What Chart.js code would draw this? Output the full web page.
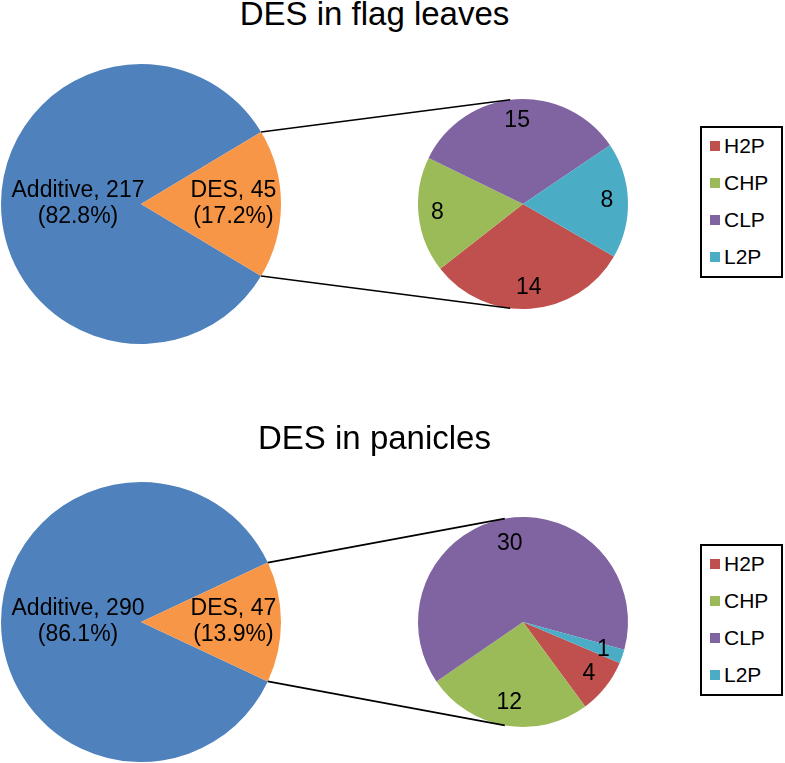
<!DOCTYPE html>
<html><head><meta charset="utf-8">
<script src="https://cdn.jsdelivr.net/npm/chart.js@4.4.1/dist/chart.umd.min.js"></script>
<style>
html,body{margin:0;padding:0;background:#fff;}
#wrap{position:relative;width:785px;height:763px;overflow:hidden;font-family:"Liberation Sans",Arial,sans-serif;}
#wrap canvas{position:absolute;left:0;}
.title{position:absolute;left:0;width:749px;text-align:center;font-size:33px;line-height:33px;color:#000;white-space:nowrap;}
.legend{position:absolute;left:700px;width:83px;height:152px;box-sizing:border-box;border:2px solid #000;background:#fff;}
.legend .it{position:absolute;left:8px;height:24px;line-height:24px;font-size:21px;color:#000;white-space:nowrap;}
.legend .sw{display:inline-block;width:10px;height:10px;margin-right:4px;vertical-align:middle;position:relative;top:-1px;}
</style>
</head><body>
<div id="wrap">
  <div class="title" id="t1" style="top:-3px"></div>
  <canvas id="big1" width="785" height="420" style="top:0;width:785px;height:420px"></canvas>
  <canvas id="small1" width="785" height="420" style="top:0;width:785px;height:420px"></canvas>
  <div class="legend" id="leg1" style="top:126px"></div>
  <div class="title" id="t2" style="top:421px"></div>
  <canvas id="big2" width="785" height="343" style="top:420px;width:785px;height:343px"></canvas>
  <canvas id="small2" width="785" height="343" style="top:420px;width:785px;height:343px"></canvas>
  <div class="legend" id="leg2" style="top:544px"></div>
</div>
<script>
// ---------- data ----------
const titles = ["DES in flag leaves", "DES in panicles"];
const mainCategories = ["Additive", "DES"];
const flagMain = [217, 45];
const panicleMain = [290, 47];
const subCategories = ["H2P", "CHP", "CLP", "L2P"];
const flagSub = [14, 8, 15, 8];
const panicleSub = [4, 12, 30, 1];

// ---------- styles ----------
const mainColors = ["#4F81BD", "#F79646"];
const subColors = ["#C0504D", "#9BBB59", "#8064A2", "#4BACC6"];
const FONT = '"Liberation Sans", Arial, sans-serif';

Chart.defaults.font.family = FONT;
Chart.defaults.animation = false;

const labelPlugin = {
  id: 'sliceLabels',
  afterDatasetsDraw(chart, args, opts) {
    const ctx = chart.ctx;
    const meta = chart.getDatasetMeta(0);
    const data = chart.data.datasets[0].data;
    const total = data.reduce((a, b) => a + b, 0);
    ctx.save();
    ctx.fillStyle = '#000';
    ctx.font = opts.size + 'px ' + FONT;
    ctx.textAlign = 'center';
    ctx.textBaseline = 'middle';
    meta.data.forEach((arc, i) => {
      const p = arc.getProps(['x', 'y', 'startAngle', 'endAngle', 'outerRadius'], true);
      const mid = (p.startAngle + p.endAngle) / 2;
      const f = opts.frac[i];
      const cx = p.x + Math.cos(mid) * p.outerRadius * f;
      const cy = p.y + Math.sin(mid) * p.outerRadius * f;
      let lines;
      if (opts.withPct) {
        lines = [chart.data.labels[i] + ', ' + data[i], '(' + (data[i] / total * 100).toFixed(1) + '%)'];
      } else {
        lines = [String(data[i])];
      }
      const lh = opts.lineHeight;
      lines.forEach((t, k) => {
        ctx.fillText(t, cx, cy + (k - (lines.length - 1) / 2) * lh);
      });
    });
    ctx.restore();
  }
};

const connectorPlugin = {
  id: 'connectors',
  afterDraw(chart, args, opts) {
    const big = opts.bigChart;
    if (!big) return;
    const bm = big.getDatasetMeta(0).data[1].getProps(['x', 'y', 'startAngle', 'endAngle', 'outerRadius'], true);
    const sm = chart.getDatasetMeta(0).data[0].getProps(['x', 'y', 'outerRadius'], true);
    const th = opts.offsetDeg * Math.PI / 180;
    const ctx = chart.ctx;
    ctx.save();
    ctx.strokeStyle = '#000';
    ctx.lineWidth = 1.6;
    ctx.beginPath();
    ctx.moveTo(bm.x + Math.cos(bm.startAngle) * bm.outerRadius, bm.y + Math.sin(bm.startAngle) * bm.outerRadius);
    ctx.lineTo(sm.x - Math.sin(th) * sm.outerRadius, sm.y - Math.cos(th) * sm.outerRadius);
    ctx.moveTo(bm.x + Math.cos(bm.endAngle) * bm.outerRadius, bm.y + Math.sin(bm.endAngle) * bm.outerRadius);
    ctx.lineTo(sm.x - Math.sin(th) * sm.outerRadius, sm.y + Math.cos(th) * sm.outerRadius);
    ctx.stroke();
    ctx.restore();
  }
};

function desCenteredRotation(values) {
  const total = values[0] + values[1];
  const addDeg = 360 * values[0] / total;
  const desDeg = 360 * values[1] / total;
  return 90 - (addDeg + desDeg / 2);
}

function makeBig(id, values, padding) {
  return new Chart(document.getElementById(id), {
    type: 'pie',
    data: { labels: mainCategories, datasets: [{ data: values, backgroundColor: mainColors, borderWidth: 0, hoverOffset: 0 }] },
    options: {
      responsive: false, animation: false,
      rotation: desCenteredRotation(values),
      layout: { padding: padding },
      events: [],
      plugins: { legend: { display: false }, title: { display: false }, tooltip: { enabled: false },
        sliceLabels: { size: 23, lineHeight: 26, frac: [0.45, 0.66], withPct: true } }
    },
    plugins: [labelPlugin]
  });
}

function makeSmall(id, values, padding, rotation, bigChart, offsetDeg, fracs) {
  return new Chart(document.getElementById(id), {
    type: 'pie',
    data: { labels: subCategories, datasets: [{ data: values, backgroundColor: subColors, borderWidth: 0, hoverOffset: 0 }] },
    options: {
      responsive: false, animation: false,
      rotation: rotation,
      layout: { padding: padding },
      events: [],
      plugins: { legend: { display: false }, title: { display: false }, tooltip: { enabled: false },
        sliceLabels: { size: 23, lineHeight: 24, frac: fracs, withPct: false },
        connectors: { bigChart: bigChart, offsetDeg: offsetDeg } }
    },
    plugins: [labelPlugin, connectorPlugin]
  });
}

function makeLegend(id) {
  const el = document.getElementById(id);
  subCategories.forEach((c, i) => {
    const d = document.createElement('div');
    d.className = 'it';
    d.style.top = (6 + i * 37) + 'px';
    d.innerHTML = '<span class="sw" style="background:' + subColors[i] + '"></span>' + c;
    el.appendChild(d);
  });
}

document.getElementById('t1').textContent = titles[0];
document.getElementById('t2').textContent = titles[1];

const big1 = makeBig('big1', flagMain, { left: 1, top: 64, right: 504, bottom: 76 });
makeSmall('small1', flagSub, { left: 418, top: 99, right: 157, bottom: 111 }, 120, big1, 7, [0.8, 0.82, 0.8, 0.8]);
const big2 = makeBig('big2', panicleMain, { left: 1, top: 62, right: 504, bottom: 1 });
makeSmall('small2', panicleSub, { left: 418, top: 97, right: 157, bottom: 36 }, 113, big2, 10, [0.8, 0.78, 0.76, 0.81]);
makeLegend('leg1');
makeLegend('leg2');
</script>
</body></html>
